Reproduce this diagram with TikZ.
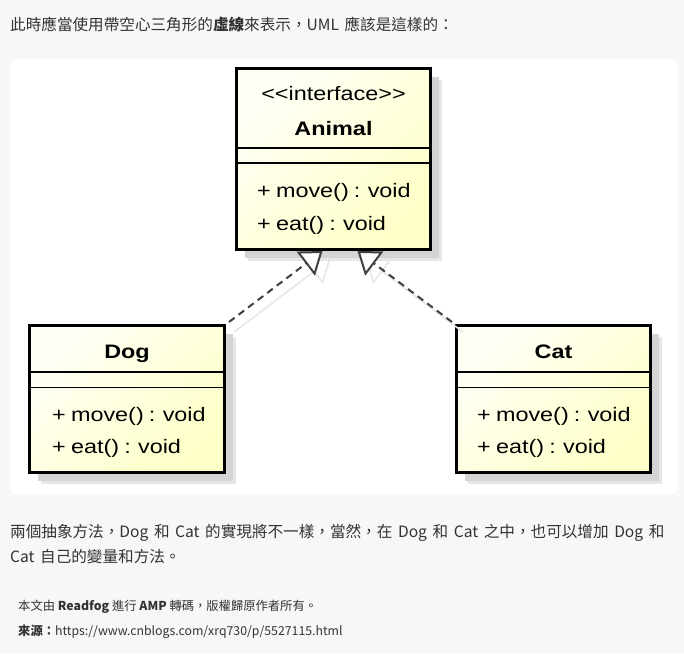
\documentclass[tikz,border=0pt]{standalone}
\usepackage{xcolor}
\usepackage{fontspec}
\setmainfont{Liberation Sans}
\newfontfamily\cjk{Noto Sans CJK TC}
\usepackage{tikz}
\usetikzlibrary{calc}
\usetikzlibrary{arrows.meta}
\usetikzlibrary{shadows}
\usetikzlibrary{positioning}
\definecolor{pagebg}{HTML}{F7F7F7}
\definecolor{txt}{HTML}{333333}
\definecolor{boxlight}{HTML}{FFFFF6}
\definecolor{boxdark}{HTML}{FFFFC8}
\definecolor{shadowdark}{HTML}{D4D4D4}
\definecolor{shadowlight}{HTML}{E6E6E6}
\definecolor{dashgray}{HTML}{404040}
\newcommand{\wide}[1]{\scalebox{1.2}[1]{#1}}
\newcommand{\umlspace}{\spaceskip=0.22em\relax}
\newcommand{\webspace}{\spaceskip=0.36em\relax}
\tikzset{>=latex}
\tikzstyle{umlbox} = [rectangle, draw=black, line width=3pt, inner sep=0pt,
  top color=boxlight, bottom color=boxdark, shading angle=45,
  drop shadow={shadow xshift=11pt, shadow yshift=-11pt, fill=shadowlight, opacity=1},
  drop shadow={shadow xshift=8pt, shadow yshift=-8pt, fill=shadowdark, opacity=1}]
\tikzstyle{umlline} = [draw=black, line width=1.8pt]
\tikzstyle{umltxt} = [font=\fontsize{19.5}{21}\selectfont\umlspace, inner sep=0pt, text=black]
\tikzstyle{realize} = [draw=dashgray, line width=2pt, dash pattern=on 7pt off 5pt,
  -{Triangle[fill=white, length=21pt, width=30pt]}]
\tikzstyle{realizeshadow} = [draw=shadowlight, line width=1.5pt,
  -{Triangle[open, length=21pt, width=30pt]}]
\tikzstyle{webtxt} = [font=\cjk\fontsize{15.6}{18}\selectfont\webspace, text=txt, inner sep=0pt, anchor=base west]
\tikzstyle{notetxt} = [font=\cjk\fontsize{12.3}{15}\selectfont, text=txt, inner sep=0pt, anchor=base west]

\begin{document}
\begin{tikzpicture}[x=1pt, y=-1pt]
\useasboundingbox (0,0) rectangle (684,653);
\fill [pagebg] (0,0) rectangle (684,653);
\fill [white, rounded corners=5pt] (10,59) rectangle (678,494);

% page text
\node [webtxt] (intro) at (10,30) {此時應當使用帶空心三角形的\textbf{虛線}來表示，UML 應該是這樣的：};
\node [webtxt] (restA) at (10,537) {兩個抽象方法，Dog 和 Cat 的實現將不一樣，當然，在 Dog 和 Cat 之中，也可以增加 Dog 和};
\node [webtxt] (restB) at (10,562) {Cat 自己的變量和方法。};
\node [notetxt] (note) at (18,610) {本文由 \textbf{Readfog} 進行 \textbf{AMP} 轉碼，版權歸原作者所有。};
\node [notetxt] (source) at (18,635) {\textbf{來源：}https://www.cnblogs.com/xrq730/p/5527115.html};

% classes
\node [umlbox, minimum width=194pt, minimum height=181pt] (animal) at (333.5,159) {};
\node [umlbox, minimum width=195pt, minimum height=147pt] (dog) at (127,399) {};
\node [umlbox, minimum width=194pt, minimum height=147pt] (cat) at (553.5,399) {};

\draw [umlline] ([yshift=-81pt]animal.north west) -- ([yshift=-81pt]animal.north east);
\draw [umlline] ([yshift=-96pt]animal.north west) -- ([yshift=-96pt]animal.north east);
\draw [umlline] ([yshift=-48pt]dog.north west) -- ([yshift=-48pt]dog.north east);
\draw [umlline] ([yshift=-63.5pt]dog.north west) -- ([yshift=-63.5pt]dog.north east);
\draw [umlline] ([yshift=-48pt]cat.north west) -- ([yshift=-48pt]cat.north east);
\draw [umlline] ([yshift=-63.5pt]cat.north west) -- ([yshift=-63.5pt]cat.north east);

\node [umltxt] (animalst) at (333.5,94) {\wide{<\kern0pt<interface>\kern0pt>}};
\node [umltxt, anchor=base] (animalname) at (333.5,135) {\wide{\textbf{Animal}}};
\node [umltxt, anchor=west] (animalmove) at (257,192) {\wide{+ move() : void}};
\node [umltxt, anchor=west] (animaleat) at (257,225) {\wide{+ eat() : void}};

\node [umltxt, anchor=base] (dogname) at (127,358) {\wide{\textbf{Dog}}};
\node [umltxt, anchor=west] (dogmove) at (52,416) {\wide{+ move() : void}};
\node [umltxt, anchor=west] (dogeat) at (52,448) {\wide{+ eat() : void}};

\node [umltxt, anchor=base] (catname) at (553.5,358) {\wide{\textbf{Cat}}};
\node [umltxt, anchor=west] (catmove) at (477,416) {\wide{+ move() : void}};
\node [umltxt, anchor=west] (cateat) at (477,448) {\wide{+ eat() : void}};

% realizations
\draw [realizeshadow] ([xshift=8pt, yshift=-8pt]dog.north east) to ([xshift=-3pt, yshift=-8pt]animal.south);
\draw [realizeshadow] ([xshift=8pt, yshift=-8pt]cat.north west) to ([xshift=32pt, yshift=-8pt]animal.south);
\draw [realize] ([xshift=3pt, yshift=2pt]dog.north east) to ([xshift=-11pt]animal.south);
\draw [realize] ([xshift=-3pt, yshift=2pt]cat.north west) to ([xshift=24pt]animal.south);
\end{tikzpicture}
\end{document}
